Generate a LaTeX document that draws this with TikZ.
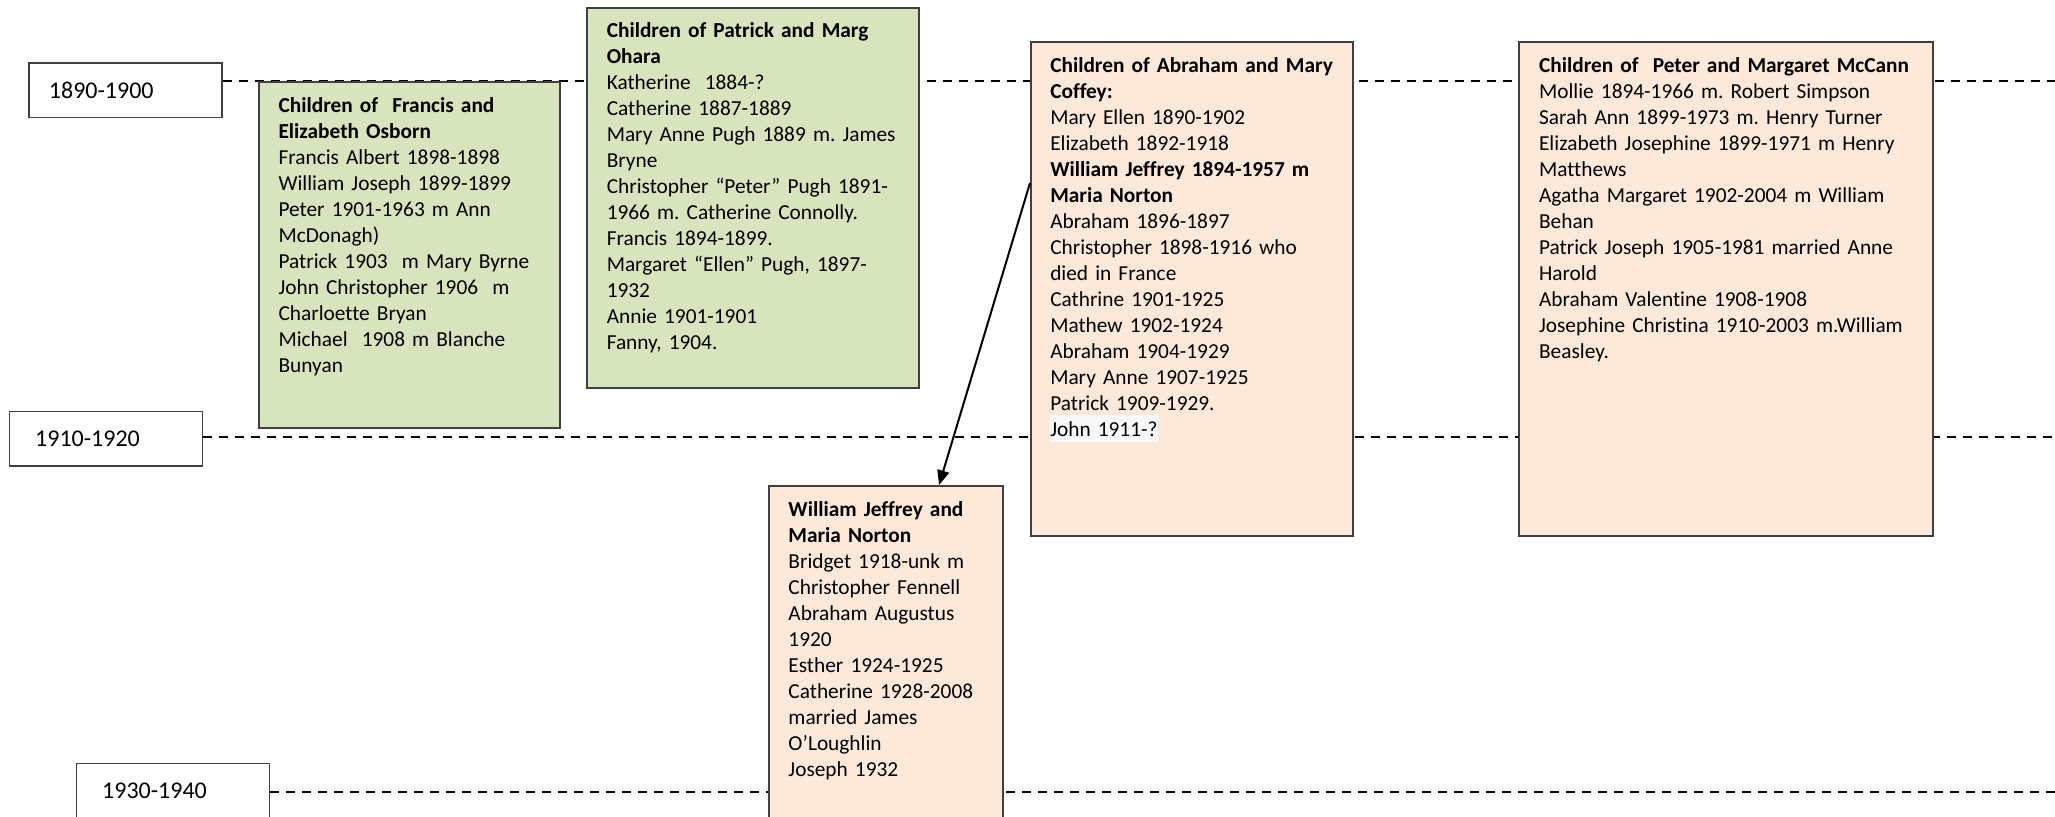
\documentclass[tikz,border=0pt]{standalone}
\usepackage{fontspec}
\setmainfont{Carlito}[Ligatures={TeX,NoCommon}]
\usepackage{xcolor}
\usetikzlibrary{positioning,arrows.meta}
\frenchspacing

\definecolor{famgreen}{HTML}{D7E4BD}
\definecolor{fampeach}{HTML}{FDE9D9}
\definecolor{edgegray}{HTML}{404040}
\definecolor{hlgray}{HTML}{F8F8F8}

\begin{document}
\begin{tikzpicture}[x=0.75pt, y=-0.75pt, >={Triangle[length=11pt,width=9pt]},
    yearbox/.style={draw=edgegray, line width=1pt, fill=white, anchor=north west,
        inner xsep=15pt, inner ysep=0pt, text width=114.75pt, minimum height=41pt,
        align=left, font=\fontsize{18}{21}\selectfont},
    greenbox/.style={draw=edgegray, line width=1.5pt, fill=famgreen, anchor=north west},
    peachbox/.style={draw=edgegray, line width=1.5pt, fill=fampeach, anchor=north west},
    famtext/.style={inner sep=0pt, anchor=base west, align=left,
        font=\fontsize{16}{19.5}\selectfont},
    timeline/.style={line width=1.5pt, dash pattern=on 7pt off 5pt},
    descent/.style={->, line width=1.5pt}]

    \useasboundingbox (0,0) rectangle (2055,817);
    \clip (0,0) rectangle (2055,817);

    % decades
    \node [yearbox] (y1890) at (28.3,62.3) {1890-1900};
    \node [yearbox, inner xsep=19.5pt, text width=105.75pt] (y1910) at (8.5,410.7) {1910-1920};
    \node [yearbox, inner xsep=19.5pt, text width=105.75pt] (y1930) at (75.5,762.7) {1930-1940};

    \coordinate (row1) at (2055,81);
    \coordinate (row2) at (2055,437);
    \coordinate (row3) at (2055,792);
    \draw [timeline] (y1890.east |- row1) -- (row1);
    \draw [timeline] (y1910.east |- row2) -- (row2);
    \draw [timeline] (y1930.east |- row3) -- (row3);

    % families
    \node [greenbox, minimum width=225.3pt, minimum height=259.5pt] (francis) at (258.3,80.7) {};
    \node [famtext, text width=202pt] (francistxt) at ([shift={(20,31.5)}]francis.north west)
        {\textbf{Children of~~Francis and}\\
         \textbf{Elizabeth Osborn}\\
         Francis Albert 1898-1898\\
         William Joseph 1899-1899\\
         Peter 1901-1963 m Ann\\
         McDonagh)\\
         Patrick 1903~~m Mary Byrne\\
         John Christopher 1906~~m\\
         Charloette Bryan\\
         Michael~~1908 m Blanche\\
         Bunyan};

    \node [greenbox, minimum width=249.2pt, minimum height=285.5pt] (patrick) at (586,6.7) {};
    \node [famtext, text width=226pt] (patricktxt) at ([shift={(20.5,31)}]patrick.north west)
        {\textbf{Children of Patrick and Marg}\\
         \textbf{Ohara}\\
         Katherine~~1884-?\\
         Catherine 1887-1889\\
         Mary Anne Pugh 1889 m. James\\
         Bryne\\
         Christopher “Peter” Pugh 1891-\\
         1966 m. Catherine Connolly.\\
         Francis 1894-1899.\\
         Margaret “Ellen” Pugh, 1897-\\
         1932\\
         Annie 1901-1901\\
         Fanny, 1904.};

    \node [peachbox, minimum width=241.5pt, minimum height=370.7pt] (abraham) at (1030,40.7) {};
    \node [famtext, text width=219pt] (abrahamtxt) at ([shift={(20,31.5)}]abraham.north west)
        {\textbf{Children of Abraham and Mary}\\
         \textbf{Coffey:}\\
         Mary Ellen 1890-1902\\
         Elizabeth 1892-1918\\
         \textbf{William Jeffrey 1894-1957 m}\\
         \textbf{Maria Norton}\\
         Abraham 1896-1897\\
         Christopher 1898-1916 who\\
         died in France\\
         Cathrine 1901-1925\\
         Mathew 1902-1924\\
         Abraham 1904-1929\\
         Mary Anne 1907-1925\\
         Patrick 1909-1929.\\
         {\setlength{\fboxsep}{0pt}\colorbox{hlgray}{\rule[-4.3pt]{0pt}{20pt}John 1911-?}}};

    \node [peachbox, minimum width=310.8pt, minimum height=370.7pt] (mccann) at (1517.8,40.7) {};
    \node [famtext, text width=288pt] (mccanntxt) at ([shift={(21,31.5)}]mccann.north west)
        {\textbf{Children of~~Peter and Margaret McCann}\\
         Mollie 1894-1966 m. Robert Simpson\\
         Sarah Ann 1899-1973 m. Henry Turner\\
         Elizabeth Josephine 1899-1971 m Henry\\
         Matthews\\
         Agatha Margaret 1902-2004 m William\\
         Behan\\
         Patrick Joseph 1905-1981 married Anne\\
         Harold\\
         Abraham Valentine 1908-1908\\
         Josephine Christina 1910-2003 m.William\\
         Beasley.};

    \node [peachbox, minimum width=175.5pt, minimum height=262.5pt] (william) at (767.7,485) {};
    \node [famtext, text width=153pt] (williamtxt) at ([shift={(20.5,31)}]william.north west)
        {\textbf{William Jeffrey and}\\
         \textbf{Maria Norton}\\
         Bridget 1918-unk m\\
         Christopher Fennell\\
         Abraham Augustus\\
         1920\\
         Esther 1924-1925\\
         Catherine 1928-2008\\
         married James\\
         O’Loughlin\\
         Joseph 1932};

    \draw [descent] ([yshift=-106.7pt]abraham.north west) -- ([xshift=40pt]william.north);
\end{tikzpicture}
\end{document}
